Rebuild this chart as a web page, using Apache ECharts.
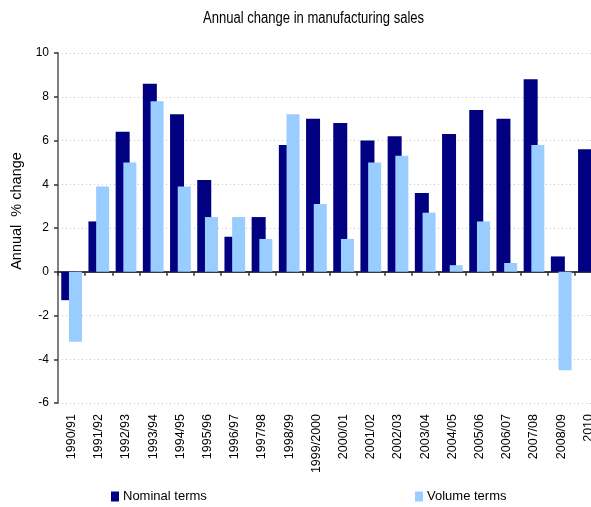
<!DOCTYPE html>
<html>
<head>
<meta charset="utf-8">
<script src="https://cdn.jsdelivr.net/npm/echarts@6/dist/echarts.min.js"></script>
<style>
  html, body { margin: 0; padding: 0; background: #ffffff; overflow: hidden; }
  /* the plot runs a little past the right edge of the window */
  #chart { width: 603px; height: 507px; }
</style>
</head>
<body>
<div id="chart"></div>
<script>
// Financial years shown along the category axis
var years = ['1990/91', '1991/92', '1992/93', '1993/94', '1994/95', '1995/96', '1996/97',
  '1997/98', '1998/99', '1999/2000', '2000/01', '2001/02', '2002/03', '2003/04',
  '2004/05', '2005/06', '2006/07', '2007/08', '2008/09', '2010'];

// Annual % change in manufacturing sales, current prices
var nominalTerms = [-1.3, 2.3, 6.4, 8.6, 7.2, 4.2, 1.6, 2.5, 5.8, 7.0,
  6.8, 6.0, 6.2, 3.6, 6.3, 7.4, 7.0, 8.8, 0.7, 5.6];

// Annual % change in manufacturing sales, chain volume measures
var volumeTerms = [-3.2, 3.9, 5.0, 7.8, 3.9, 2.5, 2.5, 1.5, 7.2, 3.1,
  1.5, 5.0, 5.3, 2.7, 0.3, 2.3, 0.4, 5.8, -4.5, null];

// Value axis range and step
var yMin = -6, yMax = 10, yStep = 2;

var chart = echarts.init(document.getElementById('chart'), null, { renderer: 'canvas' });

var labelFont = '"Liberation Sans", Arial, sans-serif';

chart.setOption({
  animation: false,
  backgroundColor: '#ffffff',
  legend: [
    {
      data: ['Nominal terms'],
      left: 111, top: 490, padding: 0,
      itemWidth: 8, itemHeight: 10, itemGap: 0,
      icon: 'rect',
      textStyle: { fontFamily: labelFont, fontSize: 13, color: '#000000', padding: [0, 0, 0, -1] }
    },
    {
      data: ['Volume terms'],
      left: 415, top: 490, padding: 0,
      itemWidth: 8, itemHeight: 10, itemGap: 0,
      icon: 'rect',
      textStyle: { fontFamily: labelFont, fontSize: 13, color: '#000000', padding: [0, 0, 0, -1] }
    }
  ],
  grid: { left: 58, top: 53, right: 1, bottom: 104, containLabel: false },
  xAxis: [
    {
      // zero line with category boundary ticks
      type: 'category',
      data: years,
      boundaryGap: true,
      axisLine: { onZero: true, lineStyle: { color: '#000000', width: 1.5 } },
      axisTick: { show: true, interval: 0, alignWithLabel: false, length: 4, lineStyle: { color: '#333333', width: 1.5 } },
      axisLabel: { show: false },
      splitLine: { show: false }
    },
    {
      // rotated category labels along the bottom edge
      type: 'category',
      data: years,
      position: 'bottom',
      boundaryGap: true,
      axisLine: { show: false, onZero: false },
      axisTick: { show: false },
      axisLabel: {
        rotate: 90, margin: 11, interval: 0,
        fontFamily: labelFont, fontSize: 12.5, color: '#000000'
      },
      splitLine: { show: false }
    }
  ],
  yAxis: {
    type: 'value',
    min: yMin, max: yMax, interval: yStep,
    axisLine: { show: true, lineStyle: { color: '#808080', width: 2 } },
    axisTick: { show: true, inside: false, length: 4, lineStyle: { color: '#333333', width: 1.5 } },
    axisLabel: { margin: 9, fontFamily: labelFont, fontSize: 12, color: '#000000' },
    splitLine: { show: true, lineStyle: { color: '#c8c8c8', type: [1, 3], width: 1 } }
  },
  graphic: [
    {
      // chart title, set in a condensed cut of the sans face
      type: 'text',
      x: 203, y: 19,
      scaleX: 0.815,
      style: {
        text: 'Annual change in manufacturing sales',
        fontFamily: labelFont, fontSize: 16,
        fill: '#000000',
        align: 'left', verticalAlign: 'middle'
      }
    },
    {
      type: 'text',
      x: 17, y: 211,
      rotation: Math.PI / 2,
      style: {
        text: 'Annual  % change',
        fontFamily: labelFont, fontSize: 14.5,
        fill: '#000000',
        align: 'center', verticalAlign: 'middle'
      }
    }
  ],
  series: [
    {
      name: 'Nominal terms',
      type: 'bar',
      xAxisIndex: 0,
      data: nominalTerms,
      barWidth: 14,
      barGap: '-45%',
      itemStyle: { color: '#000080' }
    },
    {
      name: 'Volume terms',
      type: 'bar',
      xAxisIndex: 0,
      data: volumeTerms,
      barWidth: 13,
      barGap: '-45%',
      itemStyle: { color: '#99ccff' }
    }
  ]
});
</script>
</body>
</html>
